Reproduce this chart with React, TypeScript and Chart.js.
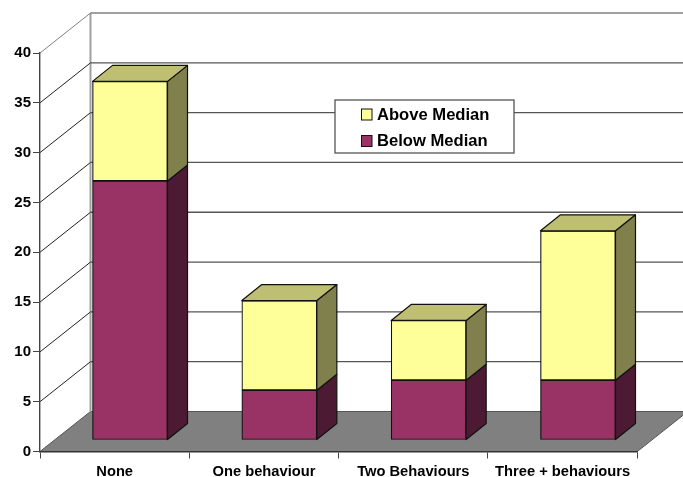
import React, { useEffect, useRef } from "react";
import { Chart, registerables } from "chart.js";

Chart.register(...registerables);

const categories = ["None", "One behaviour", "Two Behaviours", "Three + behaviours"];
const belowMedian = [26, 5, 6, 6];
const aboveMedian = [10, 9, 6, 15];
const yMax = 40;
const yStep = 5;

const FONT = '"Liberation Sans", Arial, sans-serif';
const WALL_DX = 50.5;
const WALL_DY = -40;
const BAR_DX = 15.35;
const BAR_DY = -11.5;
const DEPTH_DX = 20;
const DEPTH_DY = -16;
const FACE = [
  { front: "#993366", side: "#4D1A33", top: "#73264D" },
  { front: "#FFFF99", side: "#80804D", top: "#BFBF73" },
];

const scenePlugin = {
  id: "scene3d",
  beforeDraw(chart: any) {
    const { ctx, chartArea: a, scales } = chart;
    const y = scales.y;
    const y0 = y.getPixelForValue(0);
    ctx.save();
    // floor
    ctx.beginPath();
    ctx.moveTo(a.left, y0);
    ctx.lineTo(a.left + WALL_DX, y0 + WALL_DY);
    ctx.lineTo(a.right + WALL_DX, y0 + WALL_DY);
    ctx.lineTo(a.right, y0);
    ctx.closePath();
    ctx.fillStyle = "#808080";
    ctx.fill();
    ctx.strokeStyle = "#555555";
    ctx.lineWidth = 1;
    ctx.stroke();
    // side wall edge
    ctx.beginPath();
    ctx.moveTo(a.left + WALL_DX, y.getPixelForValue(yMax) + WALL_DY);
    ctx.lineTo(a.left + WALL_DX, y0 + WALL_DY);
    ctx.strokeStyle = "#A0A0A0";
    ctx.lineWidth = 2;
    ctx.stroke();
    // grid on walls
    for (let v = yStep; v <= yMax; v += yStep) {
      const py = y.getPixelForValue(v);
      const dark = v !== yMax;
      ctx.beginPath();
      ctx.moveTo(a.left, py);
      ctx.lineTo(a.left + WALL_DX, py + WALL_DY);
      ctx.strokeStyle = dark ? "#222222" : "#808080";
      ctx.lineWidth = 1;
      ctx.stroke();
      ctx.beginPath();
      ctx.moveTo(a.left + WALL_DX, py + WALL_DY);
      ctx.lineTo(a.right + WALL_DX, py + WALL_DY);
      ctx.strokeStyle = dark ? "#555555" : "#808080";
      ctx.lineWidth = 1.3;
      ctx.stroke();
    }
    ctx.restore();
  },
  beforeDatasetsDraw(chart: any) {
    chart.ctx.save();
    chart.ctx.translate(BAR_DX, BAR_DY);
  },
  afterDatasetsDraw(chart: any) {
    const { ctx } = chart;
    ctx.lineWidth = 1.2;
    ctx.strokeStyle = "#111111";
    ctx.lineJoin = "round";
    const quad = (pts: number[][], fill: string) => {
      ctx.beginPath();
      pts.forEach((p, i) => (i ? ctx.lineTo(p[0], p[1]) : ctx.moveTo(p[0], p[1])));
      ctx.closePath();
      ctx.fillStyle = fill;
      ctx.fill();
      ctx.stroke();
    };
    chart.data.datasets.forEach((_: any, di: number) => {
      chart.getDatasetMeta(di).data.forEach((bar: any) => {
        const p = bar.getProps(["x", "y", "base", "width"], true);
        const r = p.x + p.width / 2;
        const l = p.x - p.width / 2;
        quad(
          [
            [r, p.y],
            [r + DEPTH_DX, p.y + DEPTH_DY],
            [r + DEPTH_DX, p.base + DEPTH_DY],
            [r, p.base],
          ],
          FACE[di].side,
        );
        if (di === chart.data.datasets.length - 1) {
          quad(
            [
              [l, p.y],
              [l + DEPTH_DX, p.y + DEPTH_DY],
              [r + DEPTH_DX, p.y + DEPTH_DY],
              [r, p.y],
            ],
            FACE[di].top,
          );
        }
      });
    });
    ctx.restore();
  },
  afterDraw(chart: any) {
    const { ctx } = chart;
    const items = [...chart.data.datasets].reverse();
    ctx.save();
    ctx.fillStyle = "#FFFFFF";
    ctx.strokeStyle = "#555555";
    ctx.lineWidth = 1.3;
    ctx.fillRect(335, 100, 179, 53);
    ctx.strokeRect(335, 100, 179, 53);
    ctx.font = `bold 16.6px ${FONT}`;
    ctx.textBaseline = "middle";
    items.forEach((ds: any, i: number) => {
      const cy = 114.5 + i * 26.5;
      ctx.fillStyle = ds.backgroundColor;
      ctx.strokeStyle = "#111111";
      ctx.lineWidth = 1;
      ctx.fillRect(361.5, cy - 5.5, 10.5, 11);
      ctx.strokeRect(361.5, cy - 5.5, 10.5, 11);
      ctx.fillStyle = "#000000";
      ctx.fillText(ds.label, 377, cy + 0.5);
    });
    ctx.restore();
  },
};

export default function App() {
  const ref = useRef<HTMLCanvasElement>(null);
  useEffect(() => {
    document.body.style.margin = "0";
    const chart = new Chart(ref.current as HTMLCanvasElement, {
      type: "bar",
      plugins: [scenePlugin],
      data: {
        labels: categories,
        datasets: [
          {
            label: "Below Median",
            data: belowMedian,
            backgroundColor: FACE[0].front,
            borderColor: "#111111",
            borderWidth: 1.2,
            borderSkipped: false,
            barThickness: 75,
          },
          {
            label: "Above Median",
            data: aboveMedian,
            backgroundColor: FACE[1].front,
            borderColor: "#111111",
            borderWidth: 1.2,
            borderSkipped: false,
            barThickness: 75,
          },
        ],
      },
      options: {
        responsive: false,
        animation: false,
        layout: { padding: { left: 0, top: 53, right: 45.7, bottom: 0 } },
        plugins: { legend: { display: false }, tooltip: { enabled: false } },
        scales: {
          x: {
            stacked: true,
            afterFit: (s: any) => {
              s.height = 25.5;
            },
            grid: { drawOnChartArea: false, tickLength: 7, color: "#444444", offset: true },
            border: { color: "#333333", width: 1.6 },
            ticks: {
              color: "#000000",
              font: { family: FONT, weight: "bold", size: 14.7 },
              maxRotation: 0,
              autoSkip: false,
              padding: 5,
            },
          },
          y: {
            stacked: true,
            min: 0,
            max: yMax,
            afterFit: (s: any) => {
              s.width = 40;
            },
            grid: { drawOnChartArea: false, tickLength: 7, color: "#444444" },
            border: { color: "#444444", width: 1.4 },
            ticks: {
              stepSize: yStep,
              color: "#000000",
              font: { family: FONT, weight: "bold", size: 15 },
              padding: 2,
            },
          },
        },
      } as any,
    });
    return () => chart.destroy();
  }, []);
  return (
    <div style={{ position: "absolute", left: 0, top: 0, width: 683, height: 477, overflow: "hidden", background: "#fff" }}>
      <canvas ref={ref} width={683} height={477} style={{ display: "block" }} />
    </div>
  );
}
